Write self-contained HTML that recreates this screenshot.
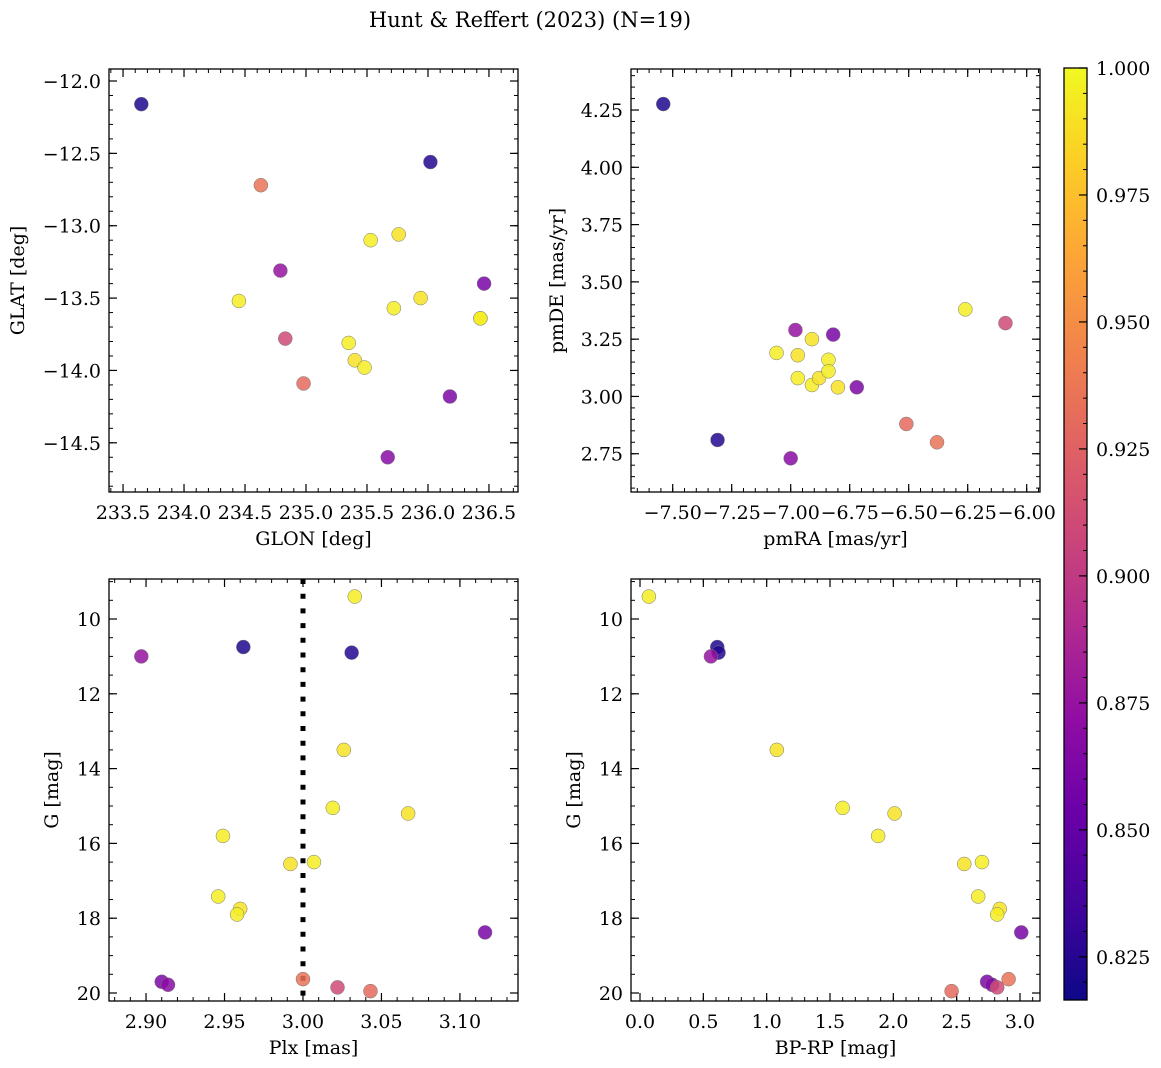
<!DOCTYPE html>
<html><head><meta charset="utf-8"><style>
html,body{margin:0;padding:0;background:#fff;}
svg{display:block;font-family:"DejaVu Serif","Liberation Serif",serif;}
</style></head><body>
<svg id="fig" width="1161" height="1068" viewBox="0 0 1161 1068" xmlns="http://www.w3.org/2000/svg">
<defs>
<linearGradient id="plasma" x1="0" y1="1" x2="0" y2="0">
<stop offset="0" stop-color="#0d0887"/><stop offset="0.1" stop-color="#41049d"/><stop offset="0.2" stop-color="#6a00a8"/><stop offset="0.3" stop-color="#8f0da4"/><stop offset="0.4" stop-color="#b12a90"/><stop offset="0.5" stop-color="#cc4778"/><stop offset="0.6" stop-color="#e16462"/><stop offset="0.7" stop-color="#f2844b"/><stop offset="0.8" stop-color="#fca636"/><stop offset="0.9" stop-color="#fcce25"/><stop offset="1" stop-color="#f0f921"/>
</linearGradient>
</defs>
<text x="530" y="27" font-size="21" text-anchor="middle">Hunt &amp; Reffert (2023) (N=19)</text>
</svg>
<script>
// Star data (one entry per star)
const glon = [233.65,236.02,234.79,236.46,236.18,235.67,234.63,234.83,234.98,235.53,235.76,234.45,235.94,235.72,236.43,236.43,235.35,235.40,235.48];
const glat = [-12.16,-12.56,-13.31,-13.40,-14.18,-14.60,-12.72,-13.78,-14.09,-13.10,-13.06,-13.52,-13.50,-13.57,-13.64,-13.64,-13.81,-13.93,-13.98];
const pmra = [-7.54,-7.31,-6.98,-6.82,-6.72,-7.00,-6.38,-6.09,-6.51,-7.06,-6.97,-6.97,-6.91,-6.91,-6.88,-6.84,-6.84,-6.80,-6.26];
const pmde = [4.276,2.81,3.29,3.27,3.04,2.73,2.80,3.32,2.88,3.19,3.18,3.08,3.25,3.05,3.08,3.16,3.11,3.04,3.38];
const plx  = [2.962,3.031,2.897,3.116,2.910,2.914,3.000,3.022,3.043,3.033,3.026,3.019,3.067,2.949,2.992,3.007,2.946,2.960,2.958];
const gmag = [10.75,10.9,11.0,18.38,19.7,19.78,19.63,19.85,19.95,9.4,13.5,15.05,15.2,15.8,16.55,16.5,17.42,17.75,17.9];
const bprp = [0.61,0.62,0.56,3.01,2.74,2.78,2.91,2.82,2.46,0.07,1.08,1.60,2.01,1.88,2.56,2.70,2.67,2.84,2.82];
const prob = [0.822,0.825,0.875,0.86,0.862,0.868,0.935,0.91,0.93,0.995,0.99,0.995,0.99,0.995,0.99,0.995,0.995,0.99,0.995];
const cbTicks = [0.825,0.850,0.875,0.900,0.925,0.950,0.975,1.000];

const NS="http://www.w3.org/2000/svg";
const svg=document.getElementById('fig');
function mk(tag,attrs,parent){const e=document.createElementNS(NS,tag);for(const k in attrs)e.setAttribute(k,attrs[k]);(parent||svg).appendChild(e);return e;}
const CMIN=0.8165,CMAX=1.0;
const stops=[[13,8,135],[65,4,157],[106,0,168],[143,13,164],[177,42,144],[204,71,120],[225,100,98],[242,132,75],[252,166,54],[252,206,37],[240,249,33]];
function cmap(v){let t=(v-CMIN)/(CMAX-CMIN);t=Math.max(0,Math.min(1,t))*10;const i=Math.min(9,Math.floor(t)),f=t-i;const a=stops[i],b=stops[i+1];return `rgb(${a.map((c,j)=>Math.round(c+(b[j]-c)*f)).join(',')})`;}
function fmt(v,d){return (v<0?'\u2212':'')+Math.abs(v).toFixed(d);}
const FS=19;

function panel(o){
  const g=mk('g',{});
  
  
  const X=v=>o.x0+(v-o.xmin)/(o.xmax-o.xmin)*(o.x1-o.x0);
  const Y=v=>o.yinv? o.y0+(v-o.ymin)/(o.ymax-o.ymin)*(o.y1-o.y0) : o.y1-(v-o.ymin)/(o.ymax-o.ymin)*(o.y1-o.y0);
  const eps=1e-9;
  for(let v=Math.ceil(o.xmin/o.xminor)*o.xminor; v<=o.xmax+eps; v+=o.xminor){const px=X(v);
    mk('line',{x1:px,x2:px,y1:o.y1,y2:o.y1-4,stroke:'#000','stroke-width':1},g);
    mk('line',{x1:px,x2:px,y1:o.y0,y2:o.y0+4,stroke:'#000','stroke-width':1},g);}
  for(let v=Math.ceil(o.ymin/o.yminor)*o.yminor; v<=o.ymax+eps; v+=o.yminor){const py=Y(v);
    mk('line',{x1:o.x0,x2:o.x0+4,y1:py,y2:py,stroke:'#000','stroke-width':1},g);
    mk('line',{x1:o.x1,x2:o.x1-4,y1:py,y2:py,stroke:'#000','stroke-width':1},g);}
  o.xticks.forEach(v=>{const px=X(v);
    mk('line',{x1:px,x2:px,y1:o.y1,y2:o.y1-8,stroke:'#000','stroke-width':1.2},g);
    mk('line',{x1:px,x2:px,y1:o.y0,y2:o.y0+8,stroke:'#000','stroke-width':1.2},g);
    const t=mk('text',{x:px,y:o.y1+27,'font-size':FS,'text-anchor':'middle'},g);t.textContent=fmt(v,o.xd);
    
    });
  o.yticks.forEach(v=>{const py=Y(v);
    mk('line',{x1:o.x0,x2:o.x0+8,y1:py,y2:py,stroke:'#000','stroke-width':1.2},g);
    mk('line',{x1:o.x1,x2:o.x1-8,y1:py,y2:py,stroke:'#000','stroke-width':1.2},g);
    const t=mk('text',{x:o.x0-8,y:py+7,'font-size':FS,'text-anchor':'end'},g);t.textContent=fmt(v,o.yd);
    
    });
  if(o.vline!==undefined){const px=X(o.vline);
    const l=mk('line',{x1:px,x2:px,y1:o.y0,y2:o.y1,stroke:'#000','stroke-width':5,'stroke-dasharray':'5 9.7'},g);
    
    }
  o.xs.forEach((xv,i)=>{
    const c=mk('circle',{cx:X(xv),cy:Y(o.ys[i]),r:7,fill:cmap(prob[i]),'fill-opacity':0.85,stroke:'#777','stroke-width':0.5},g);
    
    });
  const fr=mk('rect',{x:o.x0,y:o.y0,width:o.x1-o.x0,height:o.y1-o.y0,fill:'none',stroke:'#000','stroke-width':1.3},g);
  
  
  const xl=mk('text',{x:(o.x0+o.x1)/2,y:o.y1+53,'font-size':FS,'text-anchor':'middle'},g);xl.textContent=o.xlabel;
  
  
  const cy=(o.y0+o.y1)/2;
  const yl=mk('text',{x:o.ylx,y:cy,'font-size':FS,'text-anchor':'middle',transform:`rotate(-90 ${o.ylx} ${cy})`},g);yl.textContent=o.ylabel;
  
  
}
const r=(a,b,s)=>{const out=[];for(let v=a;v<=b+1e-9;v+=s)out.push(+v.toFixed(4));return out;};
panel({name:'glon-glat-panel',x0:109,x1:518,y0:69,y1:492,xmin:233.385,xmax:236.738,ymin:-14.84,ymax:-11.917,
 xticks:r(233.5,236.5,0.5),yticks:r(-14.5,-12.0,0.5),xminor:0.1,yminor:0.1,xd:1,yd:1,xs:glon,ys:glat,xlabel:'GLON [deg]',ylabel:'GLAT [deg]',ylx:24});
panel({name:'proper-motion-panel',x0:631,x1:1040,y0:69,y1:492,xmin:-7.5-41.7/236,xmax:-6.0+13.3/236,ymin:2.583,ymax:4.429,
 xticks:r(-7.5,-6.0,0.25),yticks:r(2.75,4.25,0.25),xminor:0.05,yminor:0.05,xd:2,yd:2,xs:pmra,ys:pmde,xlabel:'pmRA [mas/yr]',ylabel:'pmDE [mas/yr]',ylx:563});
panel({name:'plx-g-panel',x0:109,x1:518,y0:579,y1:1001,xmin:2.8764,xmax:3.137,ymin:10-40/37.4,ymax:20+8/37.4,yinv:true,
 xticks:r(2.90,3.10,0.05),yticks:r(10,20,2),xminor:0.01,yminor:0.5,xd:2,yd:0,xs:plx,ys:gmag,vline:3.0,xlabel:'Plx [mas]',ylabel:'G [mag]',ylx:58});
panel({name:'cmd-panel',x0:631,x1:1040,y0:579,y1:1001,xmin:0-9/126.7,xmax:3.0+20/126.7,ymin:10-40/37.4,ymax:20+8/37.4,yinv:true,
 xticks:r(0,3,0.5),yticks:r(10,20,2),xminor:0.1,yminor:0.5,xd:1,yd:0,xs:bprp,ys:gmag,xlabel:'BP-RP [mag]',ylabel:'G [mag]',ylx:580});

const cb=mk('g',{});


const CB={x:1064,w:23,y0:68,y1:1000};
const CY=v=>CB.y1-(v-CMIN)/(CMAX-CMIN)*(CB.y1-CB.y0);
mk('rect',{x:CB.x,y:CB.y0,width:CB.w,height:CB.y1-CB.y0,fill:'url(#plasma)',stroke:'#000','stroke-width':1.3},cb);
for(let v=0.82;v<=1.0001;v+=0.005){const py=CY(v);mk('line',{x1:CB.x+CB.w,x2:CB.x+CB.w-4,y1:py,y2:py,stroke:'#000','stroke-width':1},cb);}
cbTicks.forEach(v=>{const py=CY(v);
  mk('line',{x1:CB.x+CB.w,x2:CB.x+CB.w-8,y1:py,y2:py,stroke:'#000','stroke-width':1.2},cb);
  const t=mk('text',{x:CB.x+CB.w+9,y:py+7,'font-size':FS},cb);t.textContent=v.toFixed(3);
  
  });
</script>
</body></html>
